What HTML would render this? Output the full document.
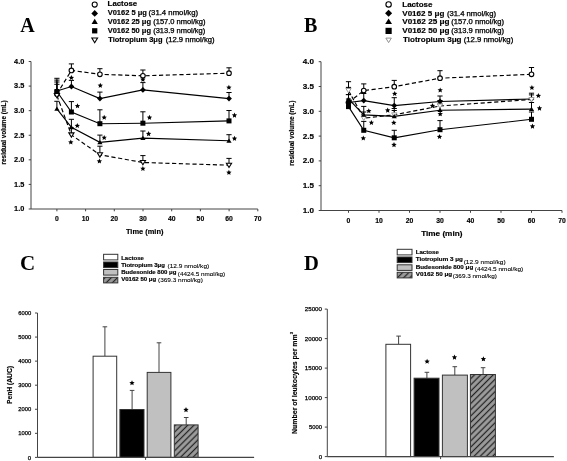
<!DOCTYPE html>
<html><head><meta charset="utf-8"><style>
html,body{margin:0;padding:0;background:#fff;}
svg{display:block;will-change:transform;}
text{fill:#000;}
.sb{font-family:"Liberation Sans",sans-serif;font-weight:bold;stroke:#000;stroke-width:0.15px;}
.sr{font-family:"Liberation Sans",sans-serif;font-weight:normal;}
.sbl{font-family:"Liberation Sans",sans-serif;font-weight:bold;stroke:#000;stroke-width:0.18px;}
.sm{font-family:"Liberation Sans",sans-serif;font-weight:normal;stroke:#000;stroke-width:0.1px;}
.tb{font-family:"Liberation Serif",serif;font-weight:bold;}
</style></head><body>
<svg width="567" height="461" viewBox="0 0 567 461">
<rect width="567" height="461" fill="#fff"/>
<line x1="31.0" y1="61.5" x2="31.0" y2="209.0" stroke="#444" stroke-width="1"/>
<line x1="31.0" y1="209.0" x2="257.8" y2="209.0" stroke="#444" stroke-width="1"/>
<line x1="28.7" y1="61.50" x2="31.0" y2="61.50" stroke="#444" stroke-width="1"/>
<text class="sb" x="24.3" y="63.9" font-size="6.8" text-anchor="end" textLength="10.2" lengthAdjust="spacingAndGlyphs">4.0</text>
<line x1="28.7" y1="86.08" x2="31.0" y2="86.08" stroke="#444" stroke-width="1"/>
<text class="sb" x="24.3" y="88.48" font-size="6.8" text-anchor="end" textLength="10.2" lengthAdjust="spacingAndGlyphs">3.5</text>
<line x1="28.7" y1="110.67" x2="31.0" y2="110.67" stroke="#444" stroke-width="1"/>
<text class="sb" x="24.3" y="113.07" font-size="6.8" text-anchor="end" textLength="10.2" lengthAdjust="spacingAndGlyphs">3.0</text>
<line x1="28.7" y1="135.25" x2="31.0" y2="135.25" stroke="#444" stroke-width="1"/>
<text class="sb" x="24.3" y="137.65" font-size="6.8" text-anchor="end" textLength="10.2" lengthAdjust="spacingAndGlyphs">2.5</text>
<line x1="28.7" y1="159.83" x2="31.0" y2="159.83" stroke="#444" stroke-width="1"/>
<text class="sb" x="24.3" y="162.23" font-size="6.8" text-anchor="end" textLength="10.2" lengthAdjust="spacingAndGlyphs">2.0</text>
<line x1="28.7" y1="184.42" x2="31.0" y2="184.42" stroke="#444" stroke-width="1"/>
<text class="sb" x="24.3" y="186.82" font-size="6.8" text-anchor="end" textLength="10.2" lengthAdjust="spacingAndGlyphs">1.5</text>
<line x1="28.7" y1="209.00" x2="31.0" y2="209.00" stroke="#444" stroke-width="1"/>
<text class="sb" x="24.3" y="211.4" font-size="6.8" text-anchor="end" textLength="10.2" lengthAdjust="spacingAndGlyphs">1.0</text>
<line x1="56.90" y1="209.0" x2="56.90" y2="211.3" stroke="#444" stroke-width="1"/>
<text class="sb" x="56.9" y="221.3" font-size="6.8" text-anchor="middle">0</text>
<line x1="85.60" y1="209.0" x2="85.60" y2="211.3" stroke="#444" stroke-width="1"/>
<text class="sb" x="85.6" y="221.3" font-size="6.8" text-anchor="middle">10</text>
<line x1="114.30" y1="209.0" x2="114.30" y2="211.3" stroke="#444" stroke-width="1"/>
<text class="sb" x="114.30000000000001" y="221.3" font-size="6.8" text-anchor="middle">20</text>
<line x1="143.00" y1="209.0" x2="143.00" y2="211.3" stroke="#444" stroke-width="1"/>
<text class="sb" x="143.0" y="221.3" font-size="6.8" text-anchor="middle">30</text>
<line x1="171.70" y1="209.0" x2="171.70" y2="211.3" stroke="#444" stroke-width="1"/>
<text class="sb" x="171.70000000000002" y="221.3" font-size="6.8" text-anchor="middle">40</text>
<line x1="200.40" y1="209.0" x2="200.40" y2="211.3" stroke="#444" stroke-width="1"/>
<text class="sb" x="200.4" y="221.3" font-size="6.8" text-anchor="middle">50</text>
<line x1="229.10" y1="209.0" x2="229.10" y2="211.3" stroke="#444" stroke-width="1"/>
<text class="sb" x="229.10000000000002" y="221.3" font-size="6.8" text-anchor="middle">60</text>
<line x1="257.80" y1="209.0" x2="257.80" y2="211.3" stroke="#444" stroke-width="1"/>
<text class="sb" x="257.8" y="221.3" font-size="6.8" text-anchor="middle">70</text>
<text class="sb" x="144.7" y="233.8" font-size="6.6" text-anchor="middle" textLength="37.5" lengthAdjust="spacingAndGlyphs">Time (min)</text>
<g transform="translate(6.3,132.4) rotate(-90)"><text class="sb" x="0" y="0" font-size="6.6" text-anchor="middle" textLength="64" lengthAdjust="spacingAndGlyphs">residual volume (mL)</text></g>
<line x1="56.9" y1="94" x2="56.9" y2="82.0" stroke="#000" stroke-width="1"/><line x1="54.3" y1="82.0" x2="59.5" y2="82.0" stroke="#000" stroke-width="1"/>
<line x1="71.4" y1="70.4" x2="71.4" y2="63.9" stroke="#000" stroke-width="1"/><line x1="68.80000000000001" y1="63.9" x2="74.0" y2="63.9" stroke="#000" stroke-width="1"/>
<line x1="99.9" y1="74.3" x2="99.9" y2="68.7" stroke="#000" stroke-width="1"/><line x1="97.30000000000001" y1="68.7" x2="102.5" y2="68.7" stroke="#000" stroke-width="1"/>
<line x1="142.9" y1="75.8" x2="142.9" y2="70" stroke="#000" stroke-width="1"/><line x1="140.3" y1="70" x2="145.5" y2="70" stroke="#000" stroke-width="1"/>
<line x1="229.0" y1="73.2" x2="229.0" y2="67.8" stroke="#000" stroke-width="1"/><line x1="226.4" y1="67.8" x2="231.6" y2="67.8" stroke="#000" stroke-width="1"/>
<line x1="56.9" y1="91" x2="56.9" y2="78.3" stroke="#000" stroke-width="1"/><line x1="54.3" y1="78.3" x2="59.5" y2="78.3" stroke="#000" stroke-width="1"/>
<line x1="71.4" y1="86.5" x2="71.4" y2="80.4" stroke="#000" stroke-width="1"/><line x1="68.80000000000001" y1="80.4" x2="74.0" y2="80.4" stroke="#000" stroke-width="1"/>
<line x1="99.9" y1="98.6" x2="99.9" y2="92.1" stroke="#000" stroke-width="1"/><line x1="97.30000000000001" y1="92.1" x2="102.5" y2="92.1" stroke="#000" stroke-width="1"/>
<line x1="142.9" y1="89.9" x2="142.9" y2="82.6" stroke="#000" stroke-width="1"/><line x1="140.3" y1="82.6" x2="145.5" y2="82.6" stroke="#000" stroke-width="1"/>
<line x1="229.0" y1="98.6" x2="229.0" y2="92.5" stroke="#000" stroke-width="1"/><line x1="226.4" y1="92.5" x2="231.6" y2="92.5" stroke="#000" stroke-width="1"/>
<line x1="56.9" y1="108.9" x2="56.9" y2="101.3" stroke="#000" stroke-width="1"/><line x1="54.3" y1="101.3" x2="59.5" y2="101.3" stroke="#000" stroke-width="1"/>
<line x1="71.4" y1="127.3" x2="71.4" y2="119.3" stroke="#000" stroke-width="1"/><line x1="68.80000000000001" y1="119.3" x2="74.0" y2="119.3" stroke="#000" stroke-width="1"/>
<line x1="99.9" y1="142.3" x2="99.9" y2="135.1" stroke="#000" stroke-width="1"/><line x1="97.30000000000001" y1="135.1" x2="102.5" y2="135.1" stroke="#000" stroke-width="1"/>
<line x1="142.9" y1="138.2" x2="142.9" y2="131" stroke="#000" stroke-width="1"/><line x1="140.3" y1="131" x2="145.5" y2="131" stroke="#000" stroke-width="1"/>
<line x1="229.0" y1="140.8" x2="229.0" y2="134.7" stroke="#000" stroke-width="1"/><line x1="226.4" y1="134.7" x2="231.6" y2="134.7" stroke="#000" stroke-width="1"/>
<line x1="56.9" y1="91.5" x2="56.9" y2="80.1" stroke="#000" stroke-width="1"/><line x1="54.3" y1="80.1" x2="59.5" y2="80.1" stroke="#000" stroke-width="1"/>
<line x1="71.4" y1="112" x2="71.4" y2="101.6" stroke="#000" stroke-width="1"/><line x1="68.80000000000001" y1="101.6" x2="74.0" y2="101.6" stroke="#000" stroke-width="1"/>
<line x1="99.9" y1="123.7" x2="99.9" y2="109.8" stroke="#000" stroke-width="1"/><line x1="97.30000000000001" y1="109.8" x2="102.5" y2="109.8" stroke="#000" stroke-width="1"/>
<line x1="142.9" y1="123.2" x2="142.9" y2="111.8" stroke="#000" stroke-width="1"/><line x1="140.3" y1="111.8" x2="145.5" y2="111.8" stroke="#000" stroke-width="1"/>
<line x1="229.0" y1="120.9" x2="229.0" y2="110.5" stroke="#000" stroke-width="1"/><line x1="226.4" y1="110.5" x2="231.6" y2="110.5" stroke="#000" stroke-width="1"/>
<line x1="56.9" y1="95.5" x2="56.9" y2="84.3" stroke="#000" stroke-width="1"/><line x1="54.3" y1="84.3" x2="59.5" y2="84.3" stroke="#000" stroke-width="1"/>
<line x1="71.4" y1="134.9" x2="71.4" y2="128" stroke="#000" stroke-width="1"/><line x1="68.80000000000001" y1="128" x2="74.0" y2="128" stroke="#000" stroke-width="1"/>
<line x1="99.9" y1="154.8" x2="99.9" y2="146.2" stroke="#000" stroke-width="1"/><line x1="97.30000000000001" y1="146.2" x2="102.5" y2="146.2" stroke="#000" stroke-width="1"/>
<line x1="142.9" y1="162.5" x2="142.9" y2="155.6" stroke="#000" stroke-width="1"/><line x1="140.3" y1="155.6" x2="145.5" y2="155.6" stroke="#000" stroke-width="1"/>
<line x1="229.0" y1="165.2" x2="229.0" y2="158.4" stroke="#000" stroke-width="1"/><line x1="226.4" y1="158.4" x2="231.6" y2="158.4" stroke="#000" stroke-width="1"/>
<polyline points="56.9,94 71.4,70.4 99.9,74.3 142.9,75.8 229.0,73.2" fill="none" stroke="#000" stroke-width="1.15" stroke-dasharray="4.2,2.6"/>
<polyline points="56.9,95.5 71.4,134.9 99.9,154.8 142.9,162.5 229.0,165.2" fill="none" stroke="#000" stroke-width="1.15" stroke-dasharray="4.2,2.6"/>
<polyline points="56.9,91 71.4,86.5 99.9,98.6 142.9,89.9 229.0,98.6" fill="none" stroke="#000" stroke-width="1.15"/>
<polyline points="56.9,108.9 71.4,127.3 99.9,142.3 142.9,138.2 229.0,140.8" fill="none" stroke="#000" stroke-width="1.15"/>
<polyline points="56.9,91.5 71.4,112 99.9,123.7 142.9,123.2 229.0,120.9" fill="none" stroke="#000" stroke-width="1.15"/>
<circle cx="56.9" cy="94" r="2.30" fill="#fff" stroke="#000" stroke-width="1.1"/>
<circle cx="71.4" cy="70.4" r="2.30" fill="#fff" stroke="#000" stroke-width="1.1"/>
<circle cx="99.9" cy="74.3" r="2.30" fill="#fff" stroke="#000" stroke-width="1.1"/>
<circle cx="142.9" cy="75.8" r="2.30" fill="#fff" stroke="#000" stroke-width="1.1"/>
<circle cx="229.0" cy="73.2" r="2.30" fill="#fff" stroke="#000" stroke-width="1.1"/>
<polygon points="54.3,93.5 59.5,93.5 56.9,97.8" fill="#fff" stroke="#000" stroke-width="1.1"/>
<polygon points="68.80000000000001,132.9 74.0,132.9 71.4,137.20000000000002" fill="#fff" stroke="#000" stroke-width="1.1"/>
<polygon points="97.30000000000001,152.8 102.5,152.8 99.9,157.10000000000002" fill="#fff" stroke="#000" stroke-width="1.1"/>
<polygon points="140.3,160.5 145.5,160.5 142.9,164.8" fill="#fff" stroke="#000" stroke-width="1.1"/>
<polygon points="226.4,163.2 231.6,163.2 229.0,167.5" fill="#fff" stroke="#000" stroke-width="1.1"/>
<polygon points="56.9,106.5 59.5,110.82000000000001 54.3,110.82000000000001" fill="#000"/>
<polygon points="71.4,124.89999999999999 74.0,129.22 68.80000000000001,129.22" fill="#000"/>
<polygon points="99.9,139.9 102.5,144.22 97.30000000000001,144.22" fill="#000"/>
<polygon points="142.9,135.79999999999998 145.5,140.11999999999998 140.3,140.11999999999998" fill="#000"/>
<polygon points="229.0,138.4 231.6,142.72 226.4,142.72" fill="#000"/>
<polygon points="56.9,88.1 59.8,91 56.9,93.9 54.0,91" fill="#000"/>
<polygon points="71.4,83.6 74.30000000000001,86.5 71.4,89.4 68.5,86.5" fill="#000"/>
<polygon points="99.9,95.69999999999999 102.80000000000001,98.6 99.9,101.5 97.0,98.6" fill="#000"/>
<polygon points="142.9,87.0 145.8,89.9 142.9,92.80000000000001 140.0,89.9" fill="#000"/>
<polygon points="229.0,95.69999999999999 231.9,98.6 229.0,101.5 226.1,98.6" fill="#000"/>
<rect x="54.4" y="89.0" width="5.0" height="5.0" fill="#000"/>
<rect x="68.9" y="109.5" width="5.0" height="5.0" fill="#000"/>
<rect x="97.4" y="121.2" width="5.0" height="5.0" fill="#000"/>
<rect x="140.4" y="120.7" width="5.0" height="5.0" fill="#000"/>
<rect x="226.5" y="118.4" width="5.0" height="5.0" fill="#000"/>
<polygon points="71.40,75.00 72.16,76.75 74.06,76.93 72.64,78.20 73.05,80.07 71.40,79.10 69.75,80.07 70.16,78.20 68.74,76.93 70.64,76.75" fill="#000"/>
<polygon points="100.30,82.80 101.06,84.55 102.96,84.73 101.54,86.00 101.95,87.87 100.30,86.90 98.65,87.87 99.06,86.00 97.64,84.73 99.54,84.55" fill="#000"/>
<polygon points="142.90,76.80 143.66,78.55 145.56,78.73 144.14,80.00 144.55,81.87 142.90,80.90 141.25,81.87 141.66,80.00 140.24,78.73 142.14,78.55" fill="#000"/>
<polygon points="228.90,84.70 229.66,86.45 231.56,86.63 230.14,87.90 230.55,89.77 228.90,88.80 227.25,89.77 227.66,87.90 226.24,86.63 228.14,86.45" fill="#000"/>
<polygon points="77.50,103.20 78.26,104.95 80.16,105.13 78.74,106.40 79.15,108.27 77.50,107.30 75.85,108.27 76.26,106.40 74.84,105.13 76.74,104.95" fill="#000"/>
<polygon points="104.20,114.70 104.96,116.45 106.86,116.63 105.44,117.90 105.85,119.77 104.20,118.80 102.55,119.77 102.96,117.90 101.54,116.63 103.44,116.45" fill="#000"/>
<polygon points="149.50,114.80 150.26,116.55 152.16,116.73 150.74,118.00 151.15,119.87 149.50,118.90 147.85,119.87 148.26,118.00 146.84,116.73 148.74,116.55" fill="#000"/>
<polygon points="234.50,112.60 235.26,114.35 237.16,114.53 235.74,115.80 236.15,117.67 234.50,116.70 232.85,117.67 233.26,115.80 231.84,114.53 233.74,114.35" fill="#000"/>
<polygon points="77.30,123.00 78.06,124.75 79.96,124.93 78.54,126.20 78.95,128.07 77.30,127.10 75.65,128.07 76.06,126.20 74.64,124.93 76.54,124.75" fill="#000"/>
<polygon points="104.20,134.90 104.96,136.65 106.86,136.83 105.44,138.10 105.85,139.97 104.20,139.00 102.55,139.97 102.96,138.10 101.54,136.83 103.44,136.65" fill="#000"/>
<polygon points="148.60,131.10 149.36,132.85 151.26,133.03 149.84,134.30 150.25,136.17 148.60,135.20 146.95,136.17 147.36,134.30 145.94,133.03 147.84,132.85" fill="#000"/>
<polygon points="234.50,135.80 235.26,137.55 237.16,137.73 235.74,139.00 236.15,140.87 234.50,139.90 232.85,140.87 233.26,139.00 231.84,137.73 233.74,137.55" fill="#000"/>
<polygon points="70.80,139.50 71.56,141.25 73.46,141.43 72.04,142.70 72.45,144.57 70.80,143.60 69.15,144.57 69.56,142.70 68.14,141.43 70.04,141.25" fill="#000"/>
<polygon points="99.40,158.50 100.16,160.25 102.06,160.43 100.64,161.70 101.05,163.57 99.40,162.60 97.75,163.57 98.16,161.70 96.74,160.43 98.64,160.25" fill="#000"/>
<polygon points="142.90,165.90 143.66,167.65 145.56,167.83 144.14,169.10 144.55,170.97 142.90,170.00 141.25,170.97 141.66,169.10 140.24,167.83 142.14,167.65" fill="#000"/>
<polygon points="228.90,169.80 229.66,171.55 231.56,171.73 230.14,173.00 230.55,174.87 228.90,173.90 227.25,174.87 227.66,173.00 226.24,171.73 228.14,171.55" fill="#000"/>
<circle cx="94.7" cy="4.6" r="2.53" fill="#fff" stroke="#000" stroke-width="1.1"/>
<text class="sb" x="107.6" y="6.3" font-size="6.6" textLength="29.6" lengthAdjust="spacingAndGlyphs">Lactose</text>
<polygon points="94.7,10.065000000000001 98.035,13.4 94.7,16.735 91.36500000000001,13.4" fill="#000"/>
<text class="sb" x="107.7" y="15.0" font-size="6.6" textLength="39.2" lengthAdjust="spacingAndGlyphs">V0162 5 μg</text>
<text class="sr" x="148.5" y="15.0" font-size="6.4" textLength="49.6" lengthAdjust="spacingAndGlyphs" stroke="#000" stroke-width="0.25">(31.4 nmol/kg)</text>
<polygon points="94.7,18.720000000000002 97.82000000000001,23.904 91.58,23.904" fill="#000"/>
<text class="sb" x="107.7" y="24.0" font-size="6.6" textLength="43.3" lengthAdjust="spacingAndGlyphs">V0162 25 μg</text>
<text class="sr" x="153.2" y="24.0" font-size="6.4" textLength="52.3" lengthAdjust="spacingAndGlyphs" stroke="#000" stroke-width="0.25">(157.0 nmol/kg)</text>
<rect x="92.075" y="28.175" width="5.25" height="5.25" fill="#000"/>
<text class="sb" x="107.7" y="33.1" font-size="6.6" textLength="43.3" lengthAdjust="spacingAndGlyphs">V0162 50 μg</text>
<text class="sr" x="153.2" y="33.1" font-size="6.4" textLength="52.0" lengthAdjust="spacingAndGlyphs" stroke="#000" stroke-width="0.25">(313.9 nmol/kg)</text>
<polygon points="91.84,38.0 97.56,38.0 94.7,42.7" fill="#fff" stroke="#000" stroke-width="1.1"/>
<text class="sb" x="108.3" y="42.1" font-size="6.6" textLength="54.2" lengthAdjust="spacingAndGlyphs">Tiotropium 3μg</text>
<text class="sr" x="165.7" y="42.1" font-size="6.4" textLength="48.9" lengthAdjust="spacingAndGlyphs" stroke="#000" stroke-width="0.25">(12.9 nmol/kg)</text>
<text class="tb" x="20.3" y="31.6" font-size="20">A</text>
<defs><pattern id="hatch" patternUnits="userSpaceOnUse" width="4.4" height="4.4" patternTransform="rotate(45)"><rect width="4.4" height="4.4" fill="#9c9c9c"/><line x1="2.2" y1="-1" x2="2.2" y2="5.4" stroke="#222" stroke-width="1.25"/></pattern></defs>
<line x1="321.0" y1="61.7" x2="321.0" y2="210.5" stroke="#444" stroke-width="1"/>
<line x1="321.0" y1="210.5" x2="562" y2="210.5" stroke="#444" stroke-width="1"/>
<line x1="318.7" y1="61.70" x2="321.0" y2="61.70" stroke="#444" stroke-width="1"/>
<text class="sb" x="314.0" y="64.1" font-size="6.8" text-anchor="end" textLength="11.2" lengthAdjust="spacingAndGlyphs">4.0</text>
<line x1="318.7" y1="86.50" x2="321.0" y2="86.50" stroke="#444" stroke-width="1"/>
<text class="sb" x="314.0" y="88.9" font-size="6.8" text-anchor="end" textLength="11.2" lengthAdjust="spacingAndGlyphs">3.5</text>
<line x1="318.7" y1="111.30" x2="321.0" y2="111.30" stroke="#444" stroke-width="1"/>
<text class="sb" x="314.0" y="113.7" font-size="6.8" text-anchor="end" textLength="11.2" lengthAdjust="spacingAndGlyphs">3.0</text>
<line x1="318.7" y1="136.10" x2="321.0" y2="136.10" stroke="#444" stroke-width="1"/>
<text class="sb" x="314.0" y="138.5" font-size="6.8" text-anchor="end" textLength="11.2" lengthAdjust="spacingAndGlyphs">2.5</text>
<line x1="318.7" y1="160.90" x2="321.0" y2="160.90" stroke="#444" stroke-width="1"/>
<text class="sb" x="314.0" y="163.3" font-size="6.8" text-anchor="end" textLength="11.2" lengthAdjust="spacingAndGlyphs">2.0</text>
<line x1="318.7" y1="185.70" x2="321.0" y2="185.70" stroke="#444" stroke-width="1"/>
<text class="sb" x="314.0" y="188.1" font-size="6.8" text-anchor="end" textLength="11.2" lengthAdjust="spacingAndGlyphs">1.5</text>
<line x1="318.7" y1="210.50" x2="321.0" y2="210.50" stroke="#444" stroke-width="1"/>
<text class="sb" x="314.0" y="212.9" font-size="6.8" text-anchor="end" textLength="11.2" lengthAdjust="spacingAndGlyphs">1.0</text>
<line x1="348.50" y1="210.5" x2="348.50" y2="212.8" stroke="#444" stroke-width="1"/>
<text class="sb" x="348.5" y="222.7" font-size="6.8" text-anchor="middle">0</text>
<line x1="379.00" y1="210.5" x2="379.00" y2="212.8" stroke="#444" stroke-width="1"/>
<text class="sb" x="379.0" y="222.7" font-size="6.8" text-anchor="middle">10</text>
<line x1="409.50" y1="210.5" x2="409.50" y2="212.8" stroke="#444" stroke-width="1"/>
<text class="sb" x="409.5" y="222.7" font-size="6.8" text-anchor="middle">20</text>
<line x1="440.00" y1="210.5" x2="440.00" y2="212.8" stroke="#444" stroke-width="1"/>
<text class="sb" x="440.0" y="222.7" font-size="6.8" text-anchor="middle">30</text>
<line x1="470.50" y1="210.5" x2="470.50" y2="212.8" stroke="#444" stroke-width="1"/>
<text class="sb" x="470.5" y="222.7" font-size="6.8" text-anchor="middle">40</text>
<line x1="501.00" y1="210.5" x2="501.00" y2="212.8" stroke="#444" stroke-width="1"/>
<text class="sb" x="501.0" y="222.7" font-size="6.8" text-anchor="middle">50</text>
<line x1="531.50" y1="210.5" x2="531.50" y2="212.8" stroke="#444" stroke-width="1"/>
<text class="sb" x="531.5" y="222.7" font-size="6.8" text-anchor="middle">60</text>
<line x1="562.00" y1="210.5" x2="562.00" y2="212.8" stroke="#444" stroke-width="1"/>
<text class="sb" x="562.0" y="222.7" font-size="6.8" text-anchor="middle">70</text>
<text class="sb" x="441.8" y="235.9" font-size="6.8" text-anchor="middle" textLength="41.2" lengthAdjust="spacingAndGlyphs">Time (min)</text>
<g transform="translate(294.4,133.2) rotate(-90)"><text class="sb" x="0" y="0" font-size="6.6" text-anchor="middle" textLength="65" lengthAdjust="spacingAndGlyphs">residual volume (mL)</text></g>
<line x1="348.5" y1="102.5" x2="348.5" y2="81.7" stroke="#000" stroke-width="1"/><line x1="345.9" y1="81.7" x2="351.1" y2="81.7" stroke="#000" stroke-width="1"/>
<line x1="363.75" y1="90.6" x2="363.75" y2="83.9" stroke="#000" stroke-width="1"/><line x1="361.15" y1="83.9" x2="366.35" y2="83.9" stroke="#000" stroke-width="1"/>
<line x1="394.25" y1="86.7" x2="394.25" y2="80.4" stroke="#000" stroke-width="1"/><line x1="391.65" y1="80.4" x2="396.85" y2="80.4" stroke="#000" stroke-width="1"/>
<line x1="440.0" y1="78.2" x2="440.0" y2="70.7" stroke="#000" stroke-width="1"/><line x1="437.4" y1="70.7" x2="442.6" y2="70.7" stroke="#000" stroke-width="1"/>
<line x1="531.5" y1="74.3" x2="531.5" y2="67.5" stroke="#000" stroke-width="1"/><line x1="528.9" y1="67.5" x2="534.1" y2="67.5" stroke="#000" stroke-width="1"/>
<line x1="348.5" y1="102.5" x2="348.5" y2="94.6" stroke="#000" stroke-width="1"/><line x1="345.9" y1="94.6" x2="351.1" y2="94.6" stroke="#000" stroke-width="1"/>
<line x1="363.75" y1="100.6" x2="363.75" y2="93.5" stroke="#000" stroke-width="1"/><line x1="361.15" y1="93.5" x2="366.35" y2="93.5" stroke="#000" stroke-width="1"/>
<line x1="394.25" y1="105.6" x2="394.25" y2="97.7" stroke="#000" stroke-width="1"/><line x1="391.65" y1="97.7" x2="396.85" y2="97.7" stroke="#000" stroke-width="1"/>
<line x1="440.0" y1="101.5" x2="440.0" y2="96.0" stroke="#000" stroke-width="1"/><line x1="437.4" y1="96.0" x2="442.6" y2="96.0" stroke="#000" stroke-width="1"/>
<line x1="531.5" y1="99.0" x2="531.5" y2="93.2" stroke="#000" stroke-width="1"/><line x1="528.9" y1="93.2" x2="534.1" y2="93.2" stroke="#000" stroke-width="1"/>
<line x1="348.5" y1="98.8" x2="348.5" y2="94.6" stroke="#000" stroke-width="1"/><line x1="345.9" y1="94.6" x2="351.1" y2="94.6" stroke="#000" stroke-width="1"/>
<line x1="363.75" y1="114.9" x2="363.75" y2="106.4" stroke="#000" stroke-width="1"/><line x1="361.15" y1="106.4" x2="366.35" y2="106.4" stroke="#000" stroke-width="1"/>
<line x1="394.25" y1="116.4" x2="394.25" y2="110.5" stroke="#000" stroke-width="1"/><line x1="391.65" y1="110.5" x2="396.85" y2="110.5" stroke="#000" stroke-width="1"/>
<line x1="440.0" y1="110.2" x2="440.0" y2="104.0" stroke="#000" stroke-width="1"/><line x1="437.4" y1="104.0" x2="442.6" y2="104.0" stroke="#000" stroke-width="1"/>
<line x1="531.5" y1="109.1" x2="531.5" y2="102.5" stroke="#000" stroke-width="1"/><line x1="528.9" y1="102.5" x2="534.1" y2="102.5" stroke="#000" stroke-width="1"/>
<line x1="348.5" y1="106.6" x2="348.5" y2="99.0" stroke="#000" stroke-width="1"/><line x1="345.9" y1="99.0" x2="351.1" y2="99.0" stroke="#000" stroke-width="1"/>
<line x1="363.75" y1="130.3" x2="363.75" y2="121.4" stroke="#000" stroke-width="1"/><line x1="361.15" y1="121.4" x2="366.35" y2="121.4" stroke="#000" stroke-width="1"/>
<line x1="394.25" y1="137.8" x2="394.25" y2="130.3" stroke="#000" stroke-width="1"/><line x1="391.65" y1="130.3" x2="396.85" y2="130.3" stroke="#000" stroke-width="1"/>
<line x1="440.0" y1="129.7" x2="440.0" y2="120.6" stroke="#000" stroke-width="1"/><line x1="437.4" y1="120.6" x2="442.6" y2="120.6" stroke="#000" stroke-width="1"/>
<line x1="531.5" y1="119.3" x2="531.5" y2="112.0" stroke="#000" stroke-width="1"/><line x1="528.9" y1="112.0" x2="534.1" y2="112.0" stroke="#000" stroke-width="1"/>
<line x1="348.5" y1="90.5" x2="348.5" y2="87.4" stroke="#000" stroke-width="1"/><line x1="345.9" y1="87.4" x2="351.1" y2="87.4" stroke="#000" stroke-width="1"/>
<line x1="363.75" y1="118.2" x2="363.75" y2="112.0" stroke="#000" stroke-width="1"/><line x1="361.15" y1="112.0" x2="366.35" y2="112.0" stroke="#000" stroke-width="1"/>
<line x1="394.25" y1="114.8" x2="394.25" y2="108.5" stroke="#000" stroke-width="1"/><line x1="391.65" y1="108.5" x2="396.85" y2="108.5" stroke="#000" stroke-width="1"/>
<line x1="440.0" y1="106.0" x2="440.0" y2="100.5" stroke="#000" stroke-width="1"/><line x1="437.4" y1="100.5" x2="442.6" y2="100.5" stroke="#000" stroke-width="1"/>
<line x1="531.5" y1="99.5" x2="531.5" y2="94.9" stroke="#000" stroke-width="1"/><line x1="528.9" y1="94.9" x2="534.1" y2="94.9" stroke="#000" stroke-width="1"/>
<polyline points="348.5,102.5 363.75,90.6 394.25,86.7 440.0,78.2 531.5,74.3" fill="none" stroke="#000" stroke-width="1.15" stroke-dasharray="4.2,2.6"/>
<polyline points="348.5,90.5 363.75,118.2 394.25,114.8 440.0,106.0 531.5,99.5" fill="none" stroke="#000" stroke-width="1.15" stroke-dasharray="4.2,2.6"/>
<polyline points="348.5,102.5 363.75,100.6 394.25,105.6 440.0,101.5 531.5,99.0" fill="none" stroke="#000" stroke-width="1.15"/>
<polyline points="348.5,98.8 363.75,114.9 394.25,116.4 440.0,110.2 531.5,109.1" fill="none" stroke="#000" stroke-width="1.15"/>
<polyline points="348.5,106.6 363.75,130.3 394.25,137.8 440.0,129.7 531.5,119.3" fill="none" stroke="#000" stroke-width="1.15"/>
<circle cx="348.5" cy="102.5" r="2.30" fill="#fff" stroke="#000" stroke-width="1.1"/>
<circle cx="363.75" cy="90.6" r="2.30" fill="#fff" stroke="#000" stroke-width="1.1"/>
<circle cx="394.25" cy="86.7" r="2.30" fill="#fff" stroke="#000" stroke-width="1.1"/>
<circle cx="440.0" cy="78.2" r="2.30" fill="#fff" stroke="#000" stroke-width="1.1"/>
<circle cx="531.5" cy="74.3" r="2.30" fill="#fff" stroke="#000" stroke-width="1.1"/>
<polygon points="348.5,99.6 351.4,102.5 348.5,105.4 345.6,102.5" fill="#000"/>
<polygon points="363.75,97.69999999999999 366.65,100.6 363.75,103.5 360.85,100.6" fill="#000"/>
<polygon points="394.25,102.69999999999999 397.15,105.6 394.25,108.5 391.35,105.6" fill="#000"/>
<polygon points="440.0,98.6 442.9,101.5 440.0,104.4 437.1,101.5" fill="#000"/>
<polygon points="531.5,96.1 534.4,99.0 531.5,101.9 528.6,99.0" fill="#000"/>
<polygon points="345.9,88.5 351.1,88.5 348.5,92.8" fill="#fff" stroke="#999" stroke-width="0.95"/>
<polygon points="361.15,116.2 366.35,116.2 363.75,120.5" fill="#fff" stroke="#999" stroke-width="0.95"/>
<polygon points="391.65,112.8 396.85,112.8 394.25,117.1" fill="#fff" stroke="#999" stroke-width="0.95"/>
<polygon points="437.4,104.0 442.6,104.0 440.0,108.3" fill="#fff" stroke="#999" stroke-width="0.95"/>
<polygon points="528.9,97.5 534.1,97.5 531.5,101.8" fill="#fff" stroke="#999" stroke-width="0.95"/>
<rect x="346.0" y="104.1" width="5.0" height="5.0" fill="#000"/>
<rect x="361.25" y="127.80000000000001" width="5.0" height="5.0" fill="#000"/>
<rect x="391.75" y="135.3" width="5.0" height="5.0" fill="#000"/>
<rect x="437.5" y="127.19999999999999" width="5.0" height="5.0" fill="#000"/>
<rect x="529.0" y="116.8" width="5.0" height="5.0" fill="#000"/>
<polygon points="348.5,96.39999999999999 351.1,100.72 345.9,100.72" fill="#000"/>
<polygon points="363.75,112.5 366.35,116.82000000000001 361.15,116.82000000000001" fill="#000"/>
<polygon points="394.25,114.0 396.85,118.32000000000001 391.65,118.32000000000001" fill="#000"/>
<polygon points="440.0,107.8 442.6,112.12 437.4,112.12" fill="#000"/>
<polygon points="531.5,106.69999999999999 534.1,111.02 528.9,111.02" fill="#000"/>
<polygon points="394.70,91.00 395.46,92.75 397.36,92.93 395.94,94.20 396.35,96.07 394.70,95.10 393.05,96.07 393.46,94.20 392.04,92.93 393.94,92.75" fill="#000"/>
<polygon points="440.20,87.40 440.96,89.15 442.86,89.33 441.44,90.60 441.85,92.47 440.20,91.50 438.55,92.47 438.96,90.60 437.54,89.33 439.44,89.15" fill="#000"/>
<polygon points="531.90,84.90 532.66,86.65 534.56,86.83 533.14,88.10 533.55,89.97 531.90,89.00 530.25,89.97 530.66,88.10 529.24,86.83 531.14,86.65" fill="#000"/>
<polygon points="368.80,108.20 369.56,109.95 371.46,110.13 370.04,111.40 370.45,113.27 368.80,112.30 367.15,113.27 367.56,111.40 366.14,110.13 368.04,109.95" fill="#000"/>
<polygon points="387.70,107.60 388.46,109.35 390.36,109.53 388.94,110.80 389.35,112.67 387.70,111.70 386.05,112.67 386.46,110.80 385.04,109.53 386.94,109.35" fill="#000"/>
<polygon points="432.50,103.10 433.26,104.85 435.16,105.03 433.74,106.30 434.15,108.17 432.50,107.20 430.85,108.17 431.26,106.30 429.84,105.03 431.74,104.85" fill="#000"/>
<polygon points="538.40,93.00 539.16,94.75 541.06,94.93 539.64,96.20 540.05,98.07 538.40,97.10 536.75,98.07 537.16,96.20 535.74,94.93 537.64,94.75" fill="#000"/>
<polygon points="371.40,119.90 372.16,121.65 374.06,121.83 372.64,123.10 373.05,124.97 371.40,124.00 369.75,124.97 370.16,123.10 368.74,121.83 370.64,121.65" fill="#000"/>
<polygon points="393.80,120.00 394.56,121.75 396.46,121.93 395.04,123.20 395.45,125.07 393.80,124.10 392.15,125.07 392.56,123.20 391.14,121.93 393.04,121.75" fill="#000"/>
<polygon points="440.20,111.30 440.96,113.05 442.86,113.23 441.44,114.50 441.85,116.37 440.20,115.40 438.55,116.37 438.96,114.50 437.54,113.23 439.44,113.05" fill="#000"/>
<polygon points="539.50,105.60 540.26,107.35 542.16,107.53 540.74,108.80 541.15,110.67 539.50,109.70 537.85,110.67 538.26,108.80 536.84,107.53 538.74,107.35" fill="#000"/>
<polygon points="363.30,135.50 364.06,137.25 365.96,137.43 364.54,138.70 364.95,140.57 363.30,139.60 361.65,140.57 362.06,138.70 360.64,137.43 362.54,137.25" fill="#000"/>
<polygon points="394.00,142.10 394.76,143.85 396.66,144.03 395.24,145.30 395.65,147.17 394.00,146.20 392.35,147.17 392.76,145.30 391.34,144.03 393.24,143.85" fill="#000"/>
<polygon points="439.50,134.00 440.26,135.75 442.16,135.93 440.74,137.20 441.15,139.07 439.50,138.10 437.85,139.07 438.26,137.20 436.84,135.93 438.74,135.75" fill="#000"/>
<polygon points="532.50,123.60 533.26,125.35 535.16,125.53 533.74,126.80 534.15,128.67 532.50,127.70 530.85,128.67 531.26,126.80 529.84,125.53 531.74,125.35" fill="#000"/>
<circle cx="388.6" cy="4.4" r="2.69" fill="#fff" stroke="#000" stroke-width="1.1"/>
<text class="sb" x="402.3" y="6.8" font-size="6.6" textLength="30.2" lengthAdjust="spacingAndGlyphs">Lactose</text>
<polygon points="388.6,9.661999999999999 392.13800000000003,13.2 388.6,16.738 385.062,13.2" fill="#000"/>
<text class="sb" x="402.3" y="15.5" font-size="6.6" textLength="42.0" lengthAdjust="spacingAndGlyphs">V0162 5 μg</text>
<text class="sr" x="447.0" y="15.5" font-size="6.4" textLength="49.0" lengthAdjust="spacingAndGlyphs" stroke="#000" stroke-width="0.25">(31.4 nmol/kg)</text>
<polygon points="388.6,18.48 391.98,24.096000000000004 385.22,24.096000000000004" fill="#000"/>
<text class="sb" x="402.3" y="24.0" font-size="6.6" textLength="47.2" lengthAdjust="spacingAndGlyphs">V0162 25 μg</text>
<text class="sr" x="451.3" y="24.0" font-size="6.4" textLength="52.8" lengthAdjust="spacingAndGlyphs" stroke="#000" stroke-width="0.25">(157.0 nmol/kg)</text>
<rect x="385.5" y="27.799999999999997" width="6.2" height="6.2" fill="#000"/>
<text class="sb" x="402.3" y="32.7" font-size="6.6" textLength="47.2" lengthAdjust="spacingAndGlyphs">V0162 50 μg</text>
<text class="sr" x="451.3" y="32.7" font-size="6.4" textLength="52.8" lengthAdjust="spacingAndGlyphs" stroke="#000" stroke-width="0.25">(313.9 nmol/kg)</text>
<polygon points="385.87,38.1 391.33000000000004,38.1 388.6,42.6" fill="#fff" stroke="#8a8a8a" stroke-width="0.95"/>
<text class="sb" x="403.0" y="42.3" font-size="6.6" textLength="58.5" lengthAdjust="spacingAndGlyphs">Tiotropium 3μg</text>
<text class="sr" x="463.7" y="42.3" font-size="6.4" textLength="49.6" lengthAdjust="spacingAndGlyphs" stroke="#000" stroke-width="0.25">(12.9 nmol/kg)</text>
<text class="tb" x="303.9" y="31.6" font-size="20">B</text>
<line x1="104.9" y1="356.2" x2="104.9" y2="326.8" stroke="#444" stroke-width="1"/><line x1="102.60000000000001" y1="326.8" x2="107.2" y2="326.8" stroke="#444" stroke-width="1"/>
<rect x="93.1" y="356.2" width="23.60" height="101.20" fill="#fff" stroke="#333" stroke-width="1"/>
<line x1="132.1" y1="409.5" x2="132.1" y2="390.4" stroke="#444" stroke-width="1"/><line x1="129.79999999999998" y1="390.4" x2="134.4" y2="390.4" stroke="#444" stroke-width="1"/>
<rect x="119.9" y="409.5" width="24.10" height="47.90" fill="#000" stroke="#333" stroke-width="1"/>
<line x1="159.0" y1="372.4" x2="159.0" y2="342.8" stroke="#444" stroke-width="1"/><line x1="156.7" y1="342.8" x2="161.3" y2="342.8" stroke="#444" stroke-width="1"/>
<rect x="147.2" y="372.4" width="23.70" height="85.00" fill="#c0c0c0" stroke="#333" stroke-width="1"/>
<line x1="186.2" y1="424.9" x2="186.2" y2="417.5" stroke="#444" stroke-width="1"/><line x1="183.89999999999998" y1="417.5" x2="188.5" y2="417.5" stroke="#444" stroke-width="1"/>
<rect x="174.3" y="424.9" width="23.80" height="32.50" fill="url(#hatch)" stroke="#333" stroke-width="1"/>
<polygon points="132.00,380.20 132.76,381.95 134.66,382.13 133.24,383.40 133.65,385.27 132.00,384.30 130.35,385.27 130.76,383.40 129.34,382.13 131.24,381.95" fill="#000"/>
<polygon points="186.00,407.10 186.76,408.85 188.66,409.03 187.24,410.30 187.65,412.17 186.00,411.20 184.35,412.17 184.76,410.30 183.34,409.03 185.24,408.85" fill="#000"/>
<line x1="37.5" y1="313.0" x2="37.5" y2="457.4" stroke="#444" stroke-width="1"/>
<line x1="37.5" y1="457.4" x2="254.1" y2="457.4" stroke="#444" stroke-width="1.2"/>
<line x1="145.6" y1="457.4" x2="145.6" y2="459.9" stroke="#444" stroke-width="1"/>
<line x1="35.0" y1="457.40" x2="37.5" y2="457.40" stroke="#444" stroke-width="1"/>
<text class="sr" x="31.2" y="459.5" font-size="6.0" text-anchor="end" stroke="#000" stroke-width="0.25">0</text>
<line x1="35.0" y1="433.33" x2="37.5" y2="433.33" stroke="#444" stroke-width="1"/>
<text class="sr" x="31.2" y="435.43" font-size="6.0" text-anchor="end" textLength="13.0" lengthAdjust="spacingAndGlyphs" stroke="#000" stroke-width="0.25">1000</text>
<line x1="35.0" y1="409.27" x2="37.5" y2="409.27" stroke="#444" stroke-width="1"/>
<text class="sr" x="31.2" y="411.37" font-size="6.0" text-anchor="end" textLength="13.0" lengthAdjust="spacingAndGlyphs" stroke="#000" stroke-width="0.25">2000</text>
<line x1="35.0" y1="385.20" x2="37.5" y2="385.20" stroke="#444" stroke-width="1"/>
<text class="sr" x="31.2" y="387.3" font-size="6.0" text-anchor="end" textLength="13.0" lengthAdjust="spacingAndGlyphs" stroke="#000" stroke-width="0.25">3000</text>
<line x1="35.0" y1="361.13" x2="37.5" y2="361.13" stroke="#444" stroke-width="1"/>
<text class="sr" x="31.2" y="363.23" font-size="6.0" text-anchor="end" textLength="13.0" lengthAdjust="spacingAndGlyphs" stroke="#000" stroke-width="0.25">4000</text>
<line x1="35.0" y1="337.07" x2="37.5" y2="337.07" stroke="#444" stroke-width="1"/>
<text class="sr" x="31.2" y="339.17" font-size="6.0" text-anchor="end" textLength="13.0" lengthAdjust="spacingAndGlyphs" stroke="#000" stroke-width="0.25">5000</text>
<line x1="35.0" y1="313.00" x2="37.5" y2="313.00" stroke="#444" stroke-width="1"/>
<text class="sr" x="31.2" y="315.1" font-size="6.0" text-anchor="end" textLength="13.0" lengthAdjust="spacingAndGlyphs" stroke="#000" stroke-width="0.25">6000</text>
<g transform="translate(12.2,385) rotate(-90)"><text class="sb" x="0" y="0" font-size="6.8" text-anchor="middle" textLength="38.2" lengthAdjust="spacingAndGlyphs">PenH (AUC)</text></g>
<rect x="103.6" y="254.30" width="14.20" height="5.6" fill="#fff" stroke="#333" stroke-width="1"/>
<rect x="103.6" y="262.00" width="14.20" height="5.6" fill="#000" stroke="#333" stroke-width="1"/>
<rect x="103.6" y="269.50" width="14.20" height="5.6" fill="#c0c0c0" stroke="#333" stroke-width="1"/>
<rect x="103.6" y="277.30" width="14.20" height="5.6" fill="url(#hatch)" stroke="#333" stroke-width="1"/>
<text class="sbl" x="121.2" y="259.5" font-size="6.2" textLength="22.7" lengthAdjust="spacingAndGlyphs">Lactose</text>
<text class="sbl" x="121.2" y="266.7" font-size="6.2" textLength="43.7" lengthAdjust="spacingAndGlyphs">Tiotropium 3μg</text>
<text class="sm" x="167.5" y="267.9" font-size="6.2" textLength="41.7" lengthAdjust="spacingAndGlyphs">(12.9 nmol/kg)</text>
<text class="sbl" x="121.2" y="273.6" font-size="6.2" textLength="55.3" lengthAdjust="spacingAndGlyphs">Budesonide 800 μg</text>
<text class="sm" x="177.8" y="276.0" font-size="6.2" textLength="47.4" lengthAdjust="spacingAndGlyphs">(4424.5 nmol/kg)</text>
<text class="sbl" x="121.2" y="280.7" font-size="6.2" textLength="35.1" lengthAdjust="spacingAndGlyphs">V0162 50 μg</text>
<text class="sm" x="158.0" y="282.0" font-size="6.2" textLength="44.8" lengthAdjust="spacingAndGlyphs">(369.3 nmol/kg)</text>
<text class="tb" x="19.9" y="269.9" font-size="21">C</text>
<line x1="398.6" y1="344.3" x2="398.6" y2="336.1" stroke="#444" stroke-width="1"/><line x1="396.3" y1="336.1" x2="400.90000000000003" y2="336.1" stroke="#444" stroke-width="1"/>
<rect x="385.9" y="344.3" width="24.70" height="112.30" fill="#fff" stroke="#333" stroke-width="1"/>
<line x1="426.9" y1="378.2" x2="426.9" y2="372.3" stroke="#444" stroke-width="1"/><line x1="424.59999999999997" y1="372.3" x2="429.2" y2="372.3" stroke="#444" stroke-width="1"/>
<rect x="414.1" y="378.2" width="24.90" height="78.40" fill="#000" stroke="#333" stroke-width="1"/>
<line x1="454.8" y1="375.1" x2="454.8" y2="366.7" stroke="#444" stroke-width="1"/><line x1="452.5" y1="366.7" x2="457.1" y2="366.7" stroke="#444" stroke-width="1"/>
<rect x="442.4" y="375.1" width="25.00" height="81.50" fill="#c0c0c0" stroke="#333" stroke-width="1"/>
<line x1="483.1" y1="374.5" x2="483.1" y2="367.7" stroke="#444" stroke-width="1"/><line x1="480.8" y1="367.7" x2="485.40000000000003" y2="367.7" stroke="#444" stroke-width="1"/>
<rect x="470.4" y="374.5" width="25.00" height="82.10" fill="url(#hatch)" stroke="#333" stroke-width="1"/>
<polygon points="427.10,358.70 427.86,360.45 429.76,360.63 428.34,361.90 428.75,363.77 427.10,362.80 425.45,363.77 425.86,361.90 424.44,360.63 426.34,360.45" fill="#000"/>
<polygon points="454.50,354.60 455.26,356.35 457.16,356.53 455.74,357.80 456.15,359.67 454.50,358.70 452.85,359.67 453.26,357.80 451.84,356.53 453.74,356.35" fill="#000"/>
<polygon points="483.40,356.30 484.16,358.05 486.06,358.23 484.64,359.50 485.05,361.37 483.40,360.40 481.75,361.37 482.16,359.50 480.74,358.23 482.64,358.05" fill="#000"/>
<line x1="327.3" y1="309.1" x2="327.3" y2="456.6" stroke="#444" stroke-width="1"/>
<line x1="327.3" y1="456.6" x2="553.9" y2="456.6" stroke="#444" stroke-width="1.2"/>
<line x1="440.6" y1="456.6" x2="440.6" y2="459.1" stroke="#444" stroke-width="1"/>
<line x1="324.8" y1="456.60" x2="327.3" y2="456.60" stroke="#444" stroke-width="1"/>
<text class="sr" x="322.0" y="458.7" font-size="6.0" text-anchor="end" stroke="#000" stroke-width="0.25">0</text>
<line x1="324.8" y1="427.10" x2="327.3" y2="427.10" stroke="#444" stroke-width="1"/>
<text class="sr" x="322.0" y="429.2" font-size="6.0" text-anchor="end" textLength="13.0" lengthAdjust="spacingAndGlyphs" stroke="#000" stroke-width="0.25">5000</text>
<line x1="324.8" y1="397.60" x2="327.3" y2="397.60" stroke="#444" stroke-width="1"/>
<text class="sr" x="322.0" y="399.7" font-size="6.0" text-anchor="end" textLength="17.2" lengthAdjust="spacingAndGlyphs" stroke="#000" stroke-width="0.25">10000</text>
<line x1="324.8" y1="368.10" x2="327.3" y2="368.10" stroke="#444" stroke-width="1"/>
<text class="sr" x="322.0" y="370.2" font-size="6.0" text-anchor="end" textLength="17.2" lengthAdjust="spacingAndGlyphs" stroke="#000" stroke-width="0.25">15000</text>
<line x1="324.8" y1="338.60" x2="327.3" y2="338.60" stroke="#444" stroke-width="1"/>
<text class="sr" x="322.0" y="340.7" font-size="6.0" text-anchor="end" textLength="17.2" lengthAdjust="spacingAndGlyphs" stroke="#000" stroke-width="0.25">20000</text>
<line x1="324.8" y1="309.10" x2="327.3" y2="309.10" stroke="#444" stroke-width="1"/>
<text class="sr" x="322.0" y="311.2" font-size="6.0" text-anchor="end" textLength="17.2" lengthAdjust="spacingAndGlyphs" stroke="#000" stroke-width="0.25">25000</text>
<g transform="translate(297.3,433.9) rotate(-90)"><text class="sb" x="0" y="0" font-size="6.8" textLength="99.6" lengthAdjust="spacingAndGlyphs">Number of leukocytes per mm</text><text class="sb" x="99.6" y="-4.6" font-size="4.4">3</text></g>
<rect x="397.2" y="249.30" width="14.80" height="5.6" fill="#fff" stroke="#333" stroke-width="1"/>
<rect x="397.2" y="257.00" width="14.80" height="5.6" fill="#000" stroke="#333" stroke-width="1"/>
<rect x="397.2" y="264.80" width="14.80" height="5.6" fill="#c0c0c0" stroke="#333" stroke-width="1"/>
<rect x="397.2" y="272.30" width="14.80" height="5.6" fill="url(#hatch)" stroke="#333" stroke-width="1"/>
<text class="sbl" x="415.7" y="254.0" font-size="6.2" textLength="23.1" lengthAdjust="spacingAndGlyphs">Lactose</text>
<text class="sbl" x="415.7" y="261.4" font-size="6.2" textLength="47.1" lengthAdjust="spacingAndGlyphs">Tiotropium 3 μg</text>
<text class="sm" x="463.7" y="263.9" font-size="6.2" textLength="42.0" lengthAdjust="spacingAndGlyphs">(12.9 nmol/kg)</text>
<text class="sbl" x="415.7" y="268.5" font-size="6.2" textLength="57.6" lengthAdjust="spacingAndGlyphs">Budesonide 800 μg</text>
<text class="sm" x="474.8" y="271.3" font-size="6.2" textLength="48.4" lengthAdjust="spacingAndGlyphs">(4424.5 nmol/kg)</text>
<text class="sbl" x="415.7" y="275.7" font-size="6.2" textLength="36.5" lengthAdjust="spacingAndGlyphs">V0162 50 μg</text>
<text class="sm" x="452.7" y="277.5" font-size="6.2" textLength="44.3" lengthAdjust="spacingAndGlyphs">(369.3 nmol/kg)</text>
<text class="tb" x="304.0" y="269.7" font-size="20.6">D</text>
</svg>
</body></html>
